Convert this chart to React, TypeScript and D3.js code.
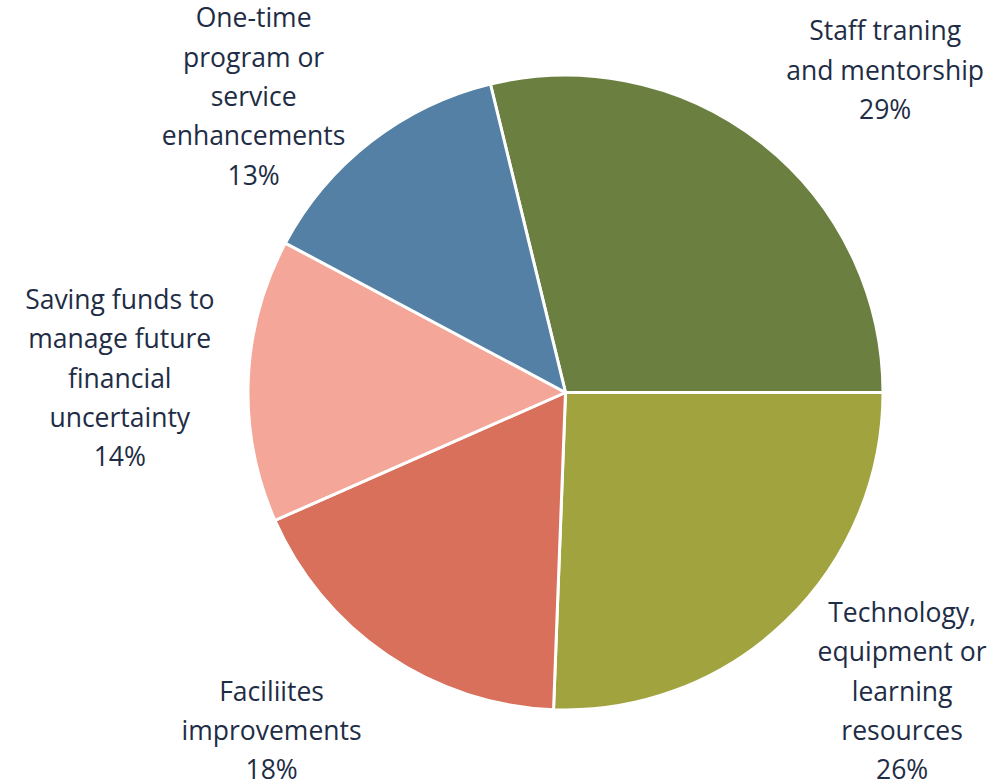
import React from "react";
import * as d3 from "d3";

const categories: string[][] = [
  ["Staff traning", "and mentorship"],
  ["Technology,", "equipment or", "learning", "resources"],
  ["Faciliites", "improvements"],
  ["Saving funds to", "manage future", "financial", "uncertainty"],
  ["One-time", "program or", "service", "enhancements"],
];
const values: number[] = [28.8, 25.6, 17.8, 14.4, 13.4];
const percentLabels: string[] = ["29%", "26%", "18%", "14%", "13%"];
const colors: string[] = ["#6b8040", "#a0a33e", "#d9705c", "#f4a698", "#5380a4"];

// label layout: angle offset (deg) from slice middle and distance from center
const labelAngleOffset = [6.6, -4.5, 6.8, -0.3, -8.7];
const labelDist = [454, 450, 448, 446, 430];

export default function App() {
  const W = 999;
  const H = 783;
  const cx = 565.5;
  const cy = 392.5;
  const r = 317.5;
  const lineH = 39.3;

  const total = d3.sum(values);
  const end0 = Math.PI / 2;
  const start0 = end0 - (values[0] / total) * 2 * Math.PI;
  const pie = d3
    .pie<number>()
    .sort(null)
    .value((d) => d)
    .startAngle(start0)
    .endAngle(start0 + 2 * Math.PI);
  const arcs = pie(values);
  const arc = d3.arc<d3.PieArcDatum<number>>().innerRadius(0).outerRadius(r);

  return (
    <svg
      width={W}
      height={H}
      style={{ position: "absolute", left: 0, top: 0, background: "#fff" }}
      fontFamily="'Open Sans', sans-serif"
    >
      <g transform={`translate(${cx},${cy})`}>
        {arcs.map((a, i) => (
          <path key={i} d={arc(a) || ""} fill={colors[i]} stroke="#fff" strokeWidth={3} strokeLinejoin="round" />
        ))}
        {arcs.map((a, i) => {
          const mid = (a.startAngle + a.endAngle) / 2 + (labelAngleOffset[i] * Math.PI) / 180;
          const x = Math.sin(mid) * labelDist[i];
          const y = -Math.cos(mid) * labelDist[i];
          const lines = [...categories[i], percentLabels[i]];
          const n = lines.length;
          return (
            <text key={i} textAnchor="middle" fontSize={26.5} fill="#1e2d45">
              {lines.map((l, j) => (
                <tspan key={j} x={x} y={y + (j - (n - 1) / 2) * lineH} dy="0.36em">
                  {l}
                </tspan>
              ))}
            </text>
          );
        })}
      </g>
    </svg>
  );
}
